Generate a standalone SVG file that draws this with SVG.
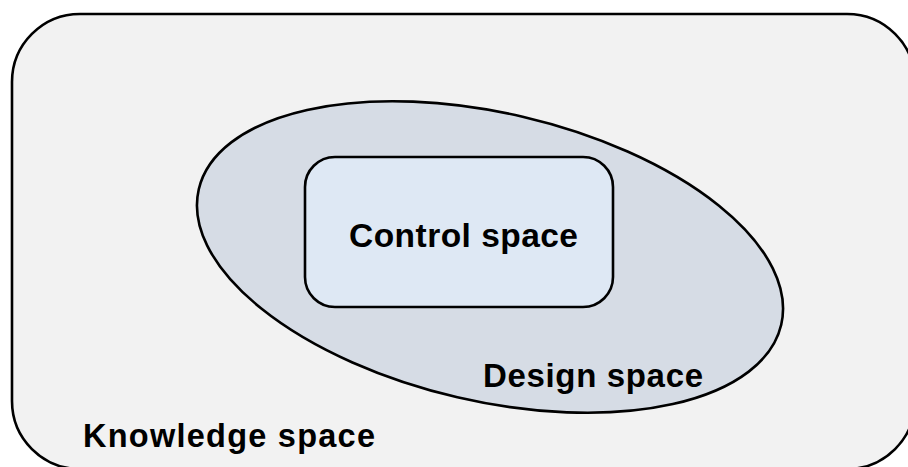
<svg xmlns="http://www.w3.org/2000/svg" width="908" height="467" viewBox="0 0 908 467">
  <style>
    .shape { stroke: #000; stroke-width: 2.6; }
    .label { font-family: "Liberation Sans", Arial, sans-serif; font-weight: bold; fill: #000; }
  </style>
  <rect width="908" height="467" fill="#ffffff"/>
  <g id="knowledge-space">
    <rect class="shape" x="12" y="14" width="903" height="455" rx="68" ry="68" fill="#f2f2f2"/>
    <text class="label" x="83" y="447" font-size="32.5" textLength="292" lengthAdjust="spacing">Knowledge space</text>
  </g>
  <g id="design-space">
    <ellipse class="shape" cx="490" cy="257" rx="299" ry="144" transform="rotate(13.1 490 257)" fill="#d6dce5"/>
    <text class="label" x="483" y="387" font-size="33" textLength="220" lengthAdjust="spacing">Design space</text>
  </g>
  <g id="control-space">
    <rect class="shape" x="305" y="157" width="308" height="150" rx="30" ry="30" fill="#dee8f4"/>
    <text class="label" x="349" y="247" font-size="33.5" textLength="229" lengthAdjust="spacing">Control space</text>
  </g>
  <g id="connectors"/>
</svg>
